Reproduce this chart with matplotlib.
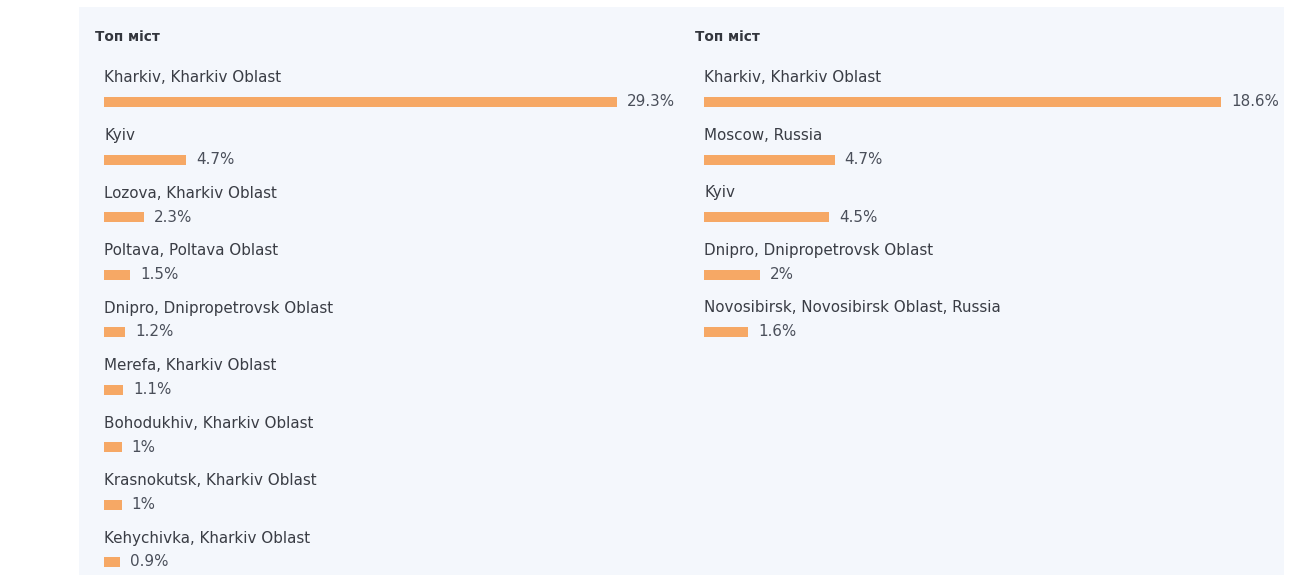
import matplotlib.pyplot as plt
from matplotlib.patches import Rectangle

# Left block
left_title = "Топ міст"
left_cities = ["Kharkiv, Kharkiv Oblast", "Kyiv", "Lozova, Kharkiv Oblast",
               "Poltava, Poltava Oblast", "Dnipro, Dnipropetrovsk Oblast",
               "Merefa, Kharkiv Oblast", "Bohodukhiv, Kharkiv Oblast",
               "Krasnokutsk, Kharkiv Oblast", "Kehychivka, Kharkiv Oblast"]
left_values = [29.3, 4.7, 2.3, 1.5, 1.2, 1.1, 1, 1, 0.9]

# Right block
right_title = "Топ міст"
right_cities = ["Kharkiv, Kharkiv Oblast", "Moscow, Russia", "Kyiv",
                "Dnipro, Dnipropetrovsk Oblast",
                "Novosibirsk, Novosibirsk Oblast, Russia"]
right_values = [18.6, 4.7, 4.5, 2, 1.6]

W, H = 1292, 575
BAR = "#f6a865"
TEXT = "#3a3d45"
VAL = "#4a4f5a"
plt.rcParams['font.family'] = ['DejaVu Sans']

fig = plt.figure(figsize=(W / 100, H / 100), dpi=100)
fig.patch.set_facecolor("white")
fig.patches.append(Rectangle((79 / W, 0), (1284 - 79) / W, (H - 7) / H,
                             transform=fig.transFigure, facecolor="#f4f7fc",
                             edgecolor="none", zorder=-5))

row = 57.5      # px between rows
first = 102     # px from top to first bar centre


def panel(x0, x1, title, cities, values):
    ax = fig.add_axes([x0 / W, 0, (x1 - x0) / W, 1])
    ax.set_zorder(2)
    ax.set_xlim(0, max(values))
    ax.set_ylim((H - first) / row, -first / row)
    ax.axis("off")
    ys = range(len(values))
    ax.barh(ys, values, height=10 / row, color=BAR, edgecolor="none")
    for y, c, v in zip(ys, cities, values):
        ax.text(0, y - 24 / row, c, fontsize=10.9, color=TEXT,
                va="center", ha="left", clip_on=False)
        ax.annotate(f"{v:g}%", (v, y), xytext=(10, 0), textcoords="offset pixels",
                    fontsize=10.9, color=VAL, va="center", ha="left",
                    annotation_clip=False)
    ax.annotate(title, (0, -65 / row), xytext=(-9, 0), textcoords="offset pixels",
                fontsize=9.8, fontweight="bold", color="#33363d",
                va="center", ha="left", annotation_clip=False)
    return ax


panel(104, 617, left_title, left_cities, left_values)
panel(704, 1221, right_title, right_cities, right_values)

fig.savefig("out.png", dpi=100)
